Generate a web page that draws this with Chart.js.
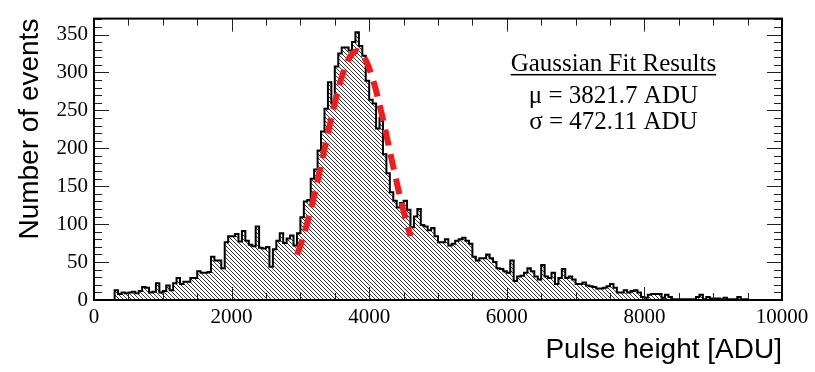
<!DOCTYPE html>
<html lang="en">
<head>
    <meta charset="UTF-8">
    <title>Pulse height spectrum</title>
    <script src="https://cdn.jsdelivr.net/npm/chart.js"></script>
    <style>
        body {
            margin: 0;
            background: #ffffff;
        }
        #wrap {
            width: 815px;
            height: 372px;
        }
    </style>
</head>
<body>
    <div id="wrap">
        <canvas id="spectrum" width="815" height="372"></canvas>
    </div>

    <script>
        // histogram: 50 ADU bins from 0 to 10000
        const binWidth = 50;
        const counts = [
            0, 0, 0, 0, 0, 0, 0, 13, 8, 10,
            9, 10, 11, 9, 12, 17, 16, 10, 11, 22,
            10, 12, 19, 13, 22, 29, 21, 24, 24, 29,
            29, 38, 36, 36, 37, 57, 52, 52, 42, 76,
            84, 84, 87, 77, 91, 78, 73, 71, 97, 69,
            68, 70, 44, 67, 78, 88, 75, 81, 85, 72,
            88, 109, 130, 132, 160, 172, 197, 222, 252, 287,
            259, 308, 325, 333, 333, 329, 340, 353, 335, 322,
            289, 264, 259, 226, 240, 192, 167, 142, 131, 122,
            128, 131, 119, 96, 110, 120, 99, 97, 92, 95,
            84, 76, 76, 80, 72, 74, 78, 80, 82, 78,
            74, 57, 52, 55, 55, 60, 55, 50, 42, 41,
            38, 36, 52, 25, 31, 32, 36, 42, 38, 31,
            27, 46, 31, 29, 36, 21, 29, 41, 29, 31,
            27, 21, 21, 23, 19, 18, 17, 15, 15, 16,
            18, 21, 16, 10, 10, 13, 10, 12, 13, 10,
            4, 3, 7, 8, 8, 8, 3, 7, 4, 1,
            1, 1, 1, 1, 1, 1, 4, 7, 1, 4,
            2, 2, 2, 1, 3, 1, 1, 1, 4, 1,
            1, 0, 0, 0, 0, 0, 0, 0, 0, 0
        ];

        const xTicks = [0, 2000, 4000, 6000, 8000, 10000];
        const yTicks = [0, 50, 100, 150, 200, 250, 300, 350];

        // gaussian fit
        const fitMean = 3821.7;
        const fitSigma = 472.11;
        const fitPeak = 328;
        const fitRange = [2950, 4600];

        const fitLines = ['\u03bc = 3821.7 ADU', '\u03c3 = 472.11 ADU'];

        const serif = "'Liberation Serif', 'Times New Roman', serif";
        const sans = "'Liberation Sans', Arial, sans-serif";

        function hatchPattern(ctx) {
            const c = document.createElement('canvas');
            c.width = 4;
            c.height = 4;
            const g = c.getContext('2d');
            g.fillStyle = '#ffffff';
            g.fillRect(0, 0, 4, 4);
            g.fillStyle = '#3a3a3a';
            for (let i = 0; i < 4; i++) g.fillRect(i, i, 1, 1);
            return ctx.createPattern(c, 'repeat');
        }

        const histPoints = counts.map((v, i) => ({ x: i * binWidth, y: v }));
        histPoints.push({ x: counts.length * binWidth, y: 0 });

        const fitPoints = [];
        for (let x = fitRange[0]; x <= fitRange[1]; x += 10) {
            const z = (x - fitMean) / fitSigma;
            fitPoints.push({ x: x, y: fitPeak * Math.exp(-0.5 * z * z) });
        }

        // ROOT-style frame with inner ticks on all four sides, plus the fit box text
        const framePlugin = {
            id: 'frame',
            afterDatasetsDraw(chart) {
                const { ctx, chartArea: a, scales: { x, y } } = chart;
                ctx.save();
                ctx.strokeStyle = '#222';
                ctx.lineWidth = 1;
                ctx.beginPath();
                for (let v = 0; v <= 10000; v += 500) {
                    const px = Math.round(x.getPixelForValue(v)) + 0.5;
                    const len = v % 2000 === 0 ? 13 : 7;
                    ctx.moveTo(px, a.bottom); ctx.lineTo(px, a.bottom - len);
                    ctx.moveTo(px, a.top); ctx.lineTo(px, a.top + len);
                }
                for (let v = 0; v <= 370; v += 10) {
                    const py = Math.round(y.getPixelForValue(v)) + 0.5;
                    const len = v % 50 === 0 ? 15 : 8;
                    ctx.moveTo(a.left, py); ctx.lineTo(a.left + len, py);
                    ctx.moveTo(a.right, py); ctx.lineTo(a.right - len, py);
                }
                ctx.stroke();

                ctx.strokeStyle = '#000';
                ctx.lineWidth = 2;
                ctx.strokeRect(a.left, a.top, a.right - a.left, a.bottom - a.top);
                ctx.restore();
            },
            afterDraw(chart) {
                const { ctx, scales: { x, y } } = chart;
                const cx = x.getPixelForValue(7550);
                ctx.save();
                ctx.fillStyle = '#000';
                ctx.font = '25px ' + serif;
                ctx.textAlign = 'center';
                ctx.textBaseline = 'alphabetic';

                const title = 'Gaussian Fit Results';
                const ty = y.getPixelForValue(302);
                ctx.fillText(title, cx, ty);
                const w = ctx.measureText(title).width;
                ctx.fillRect(cx - w / 2, ty + 3, w, 1.5);

                ctx.fillText(fitLines[0], cx, y.getPixelForValue(260));
                ctx.fillText(fitLines[1], cx, y.getPixelForValue(225));
                ctx.restore();
            }
        };

        const ctx = document.getElementById('spectrum').getContext('2d');

        new Chart(ctx, {
            type: 'line',
            data: {
                datasets: [
                    {
                        label: 'Events',
                        data: histPoints,
                        order: 2,
                        stepped: 'after',
                        borderColor: '#000',
                        borderWidth: 2,
                        backgroundColor: hatchPattern(ctx),
                        fill: 'origin',
                        pointRadius: 0,
                        tension: 0
                    },
                    {
                        label: 'Gaussian fit',
                        data: fitPoints,
                        order: 1,
                        borderColor: '#f21a1a',
                        borderWidth: 6,
                        borderDash: [16, 9],
                        borderCapStyle: 'butt',
                        fill: false,
                        pointRadius: 0,
                        tension: 0
                    }
                ]
            },
            options: {
                responsive: false,
                devicePixelRatio: 1,
                animation: false,
                layout: { padding: { top: 5, right: 33, left: 0, bottom: 0 } },
                plugins: {
                    legend: { display: false },
                    tooltip: { enabled: false }
                },
                scales: {
                    x: {
                        type: 'linear',
                        min: 0,
                        max: 10000,
                        afterBuildTicks: s => { s.ticks = xTicks.map(v => ({ value: v })); },
                        afterFit: s => { s.height = 72; },
                        grid: { display: false, drawTicks: false },
                        border: { display: false },
                        ticks: {
                            color: '#000',
                            padding: 5,
                            maxRotation: 0,
                            autoSkip: false,
                            callback: v => String(v),
                            font: { family: serif, size: 21 }
                        },
                        title: {
                            display: true,
                            text: 'Pulse height [ADU]',
                            align: 'end',
                            color: '#000',
                            padding: { top: 0, bottom: 5 },
                            font: { family: sans, size: 28 }
                        }
                    },
                    y: {
                        min: 0,
                        max: 371,
                        afterBuildTicks: s => { s.ticks = yTicks.map(v => ({ value: v })); },
                        afterFit: s => { s.width = 94; },
                        grid: { display: false, drawTicks: false },
                        border: { display: false },
                        ticks: {
                            color: '#000',
                            padding: 6,
                            autoSkip: false,
                            callback: v => String(v),
                            font: { family: serif, size: 21 }
                        },
                        title: {
                            display: true,
                            text: 'Number of events',
                            align: 'end',
                            color: '#000',
                            padding: { top: 13, bottom: 0 },
                            font: { family: sans, size: 28 }
                        }
                    }
                }
            },
            plugins: [framePlugin]
        });
    </script>
</body>
</html>
